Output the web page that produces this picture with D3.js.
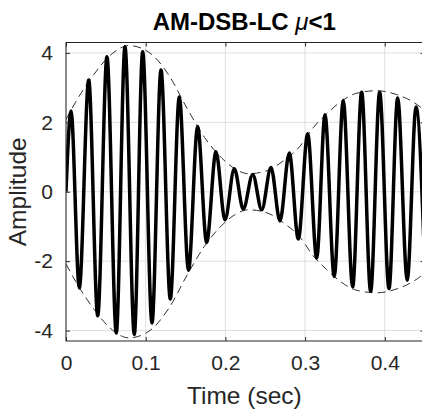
<!DOCTYPE html>
<html>
<head>
<meta charset="utf-8">
<script src="https://cdn.jsdelivr.net/npm/d3@7"></script>
<style>
  body { margin: 0; background: #fff; }
  svg { display: block; font-family: "Liberation Sans", Arial, Helvetica, sans-serif; }
  .tick text { fill: #262626; font-size: 21px; }
</style>
</head>
<body>
<svg id="chart-svg" width="422" height="410"></svg>
<script>
////////////////////////////////////////////////////////////////////////////////
// Data
// carrier maxima (time, amplitude)
var peakT = [0.0063, 0.0285, 0.0514, 0.0740, 0.0962, 0.1192, 0.1422, 0.1652, 0.1882, 0.2112,
             0.2343, 0.2572, 0.2802, 0.3033, 0.3250, 0.3479, 0.3710, 0.3936, 0.4162, 0.4392];
var peakV = [2.33, 3.22, 3.89, 4.18, 4.03, 3.51, 2.73, 1.88, 1.15, 0.66,
             0.50, 0.70, 1.12, 1.67, 2.22, 2.63, 2.87, 2.87, 2.70, 2.44];
// carrier minima
var troughT = [0.0167, 0.0398, 0.0631, 0.0857, 0.1079, 0.1309, 0.1537, 0.1765, 0.1995, 0.2225,
               0.2456, 0.2685, 0.2915, 0.3146, 0.3366, 0.3597, 0.3823, 0.4053, 0.4282, 0.4505];
var troughV = [-2.77, -3.57, -4.07, -4.11, -3.78, -3.09, -2.26, -1.46, -0.81, -0.50,
               -0.52, -0.84, -1.36, -1.91, -2.44, -2.74, -2.87, -2.79, -2.55, -2.35];
// envelope (upper, lower one is its mirror)
var envT = [0, 0.012, 0.035, 0.058, 0.079, 0.104, 0.129, 0.152, 0.174, 0.195, 0.212,
            0.229, 0.250, 0.275, 0.294, 0.310, 0.327, 0.344, 0.365, 0.390, 0.415, 0.436, 0.450];
var envV = [2.08, 2.58, 3.38, 3.98, 4.21, 4.02, 3.36, 2.40, 1.56, 0.98, 0.66,
            0.52, 0.59, 0.93, 1.32, 1.84, 2.24, 2.58, 2.84, 2.91, 2.80, 2.58, 2.35];
var xTicks = [0, 0.1, 0.2, 0.3, 0.4];
var yTicks = [-4, -2, 0, 2, 4];

////////////////////////////////////////////////////////////////////////////////
var svg = d3.select("#chart-svg");
var pLeft = 66, pRight = 424.6, pTop = 42.5, pBottom = 341;
var axisCol = "#262626", gridCol = "#dfdfdf";

var x = d3.scaleLinear().domain([0, 0.45]).range([pLeft, pRight]);
var y = d3.scaleLinear().domain([-4.3, 4.3]).range([pBottom, pTop]);

// signal points: start at zero, then the extrema in time order
var sig = [{t: 0, v: 0}];
peakT.forEach(function(t, i) { sig.push({t: t, v: peakV[i]}); });
troughT.forEach(function(t, i) { sig.push({t: t, v: troughV[i]}); });
sig.sort(function(a, b) { return a.t - b.t; });

var env = envT.map(function(t, i) { return {t: t, v: envV[i]}; });

svg.append("defs").append("clipPath").attr("id", "clip")
   .append("rect").attr("x", pLeft).attr("y", pTop)
   .attr("width", pRight - pLeft).attr("height", pBottom - pTop);

// grid
svg.append("g").selectAll("line").data(xTicks).enter().append("line")
   .attr("x1", function(d) { return x(d); }).attr("x2", function(d) { return x(d); })
   .attr("y1", pTop).attr("y2", pBottom)
   .attr("stroke", gridCol).attr("stroke-width", 1);
svg.append("g").selectAll("line").data(yTicks).enter().append("line")
   .attr("y1", function(d) { return y(d); }).attr("y2", function(d) { return y(d); })
   .attr("x1", pLeft).attr("x2", pRight)
   .attr("stroke", gridCol).attr("stroke-width", 1);

var plot = svg.append("g").attr("clip-path", "url(#clip)");

// envelope
var envLine = d3.line().x(function(d) { return x(d.t); }).curve(d3.curveMonotoneX);
plot.append("path").datum(env)
    .attr("d", envLine.y(function(d) { return y(d.v); }))
    .attr("fill", "none").attr("stroke", "#303030").attr("stroke-width", 1)
    .attr("stroke-dasharray", "8,5");
plot.append("path").datum(env)
    .attr("d", envLine.y(function(d) { return y(-d.v); }))
    .attr("fill", "none").attr("stroke", "#303030").attr("stroke-width", 1)
    .attr("stroke-dasharray", "8,5");

// modulated signal
plot.append("path").datum(sig)
    .attr("d", d3.line()
                 .x(function(d) { return x(d.t); })
                 .y(function(d) { return y(d.v); })
                 .curve(d3.curveMonotoneX))
    .attr("fill", "none").attr("stroke", "#000").attr("stroke-width", 3.5)
    .attr("stroke-linejoin", "round");

// axes: ticks inside, box on
function styleAxis(g) {
  g.select(".domain").remove();
  g.selectAll(".tick line").attr("stroke", axisCol);
}
svg.append("g").attr("transform", "translate(0," + pBottom + ")")
   .call(d3.axisBottom(x).tickValues(xTicks).tickSizeInner(-4).tickSizeOuter(0).tickPadding(14)
           .tickFormat(d3.format("")))
   .call(styleAxis);
svg.append("g").attr("transform", "translate(0," + pTop + ")")
   .call(d3.axisTop(x).tickValues(xTicks).tickSizeInner(-4).tickSizeOuter(0).tickFormat(""))
   .call(styleAxis);
svg.append("g").attr("transform", "translate(" + pLeft + ",0)")
   .call(d3.axisLeft(y).tickValues(yTicks).tickSizeInner(-4).tickSizeOuter(0).tickPadding(13)
           .tickFormat(function(d) { return String(d); }))
   .call(styleAxis);
svg.append("g").attr("transform", "translate(" + pRight + ",0)")
   .call(d3.axisRight(y).tickValues(yTicks).tickSizeInner(-4).tickSizeOuter(0).tickFormat(""))
   .call(styleAxis);

svg.append("rect").attr("x", pLeft).attr("y", pTop)
   .attr("width", pRight - pLeft).attr("height", pBottom - pTop)
   .attr("fill", "none").attr("stroke", axisCol).attr("stroke-width", 1);

// labels
svg.append("text").attr("x", (pLeft + pRight) / 2 - 1).attr("y", 404)
   .attr("text-anchor", "middle").attr("fill", axisCol).style("font-size", "24.5px")
   .text("Time (sec)");
svg.append("text").attr("transform", "translate(26," + ((pTop + pBottom) / 2) + ") rotate(-90)")
   .attr("text-anchor", "middle").attr("fill", axisCol).style("font-size", "24.5px")
   .text("Amplitude");

var title = svg.append("text").attr("x", (pLeft + pRight) / 2 - 1).attr("y", 30)
   .attr("text-anchor", "middle").attr("fill", "#000")
   .style("font-size", "24px").style("font-weight", "bold");
title.append("tspan").text("AM-DSB-LC ");
title.append("tspan").style("font-style", "italic").style("font-weight", "normal").text("\u03bc");
title.append("tspan").text("<1");
</script>
</body>
</html>
